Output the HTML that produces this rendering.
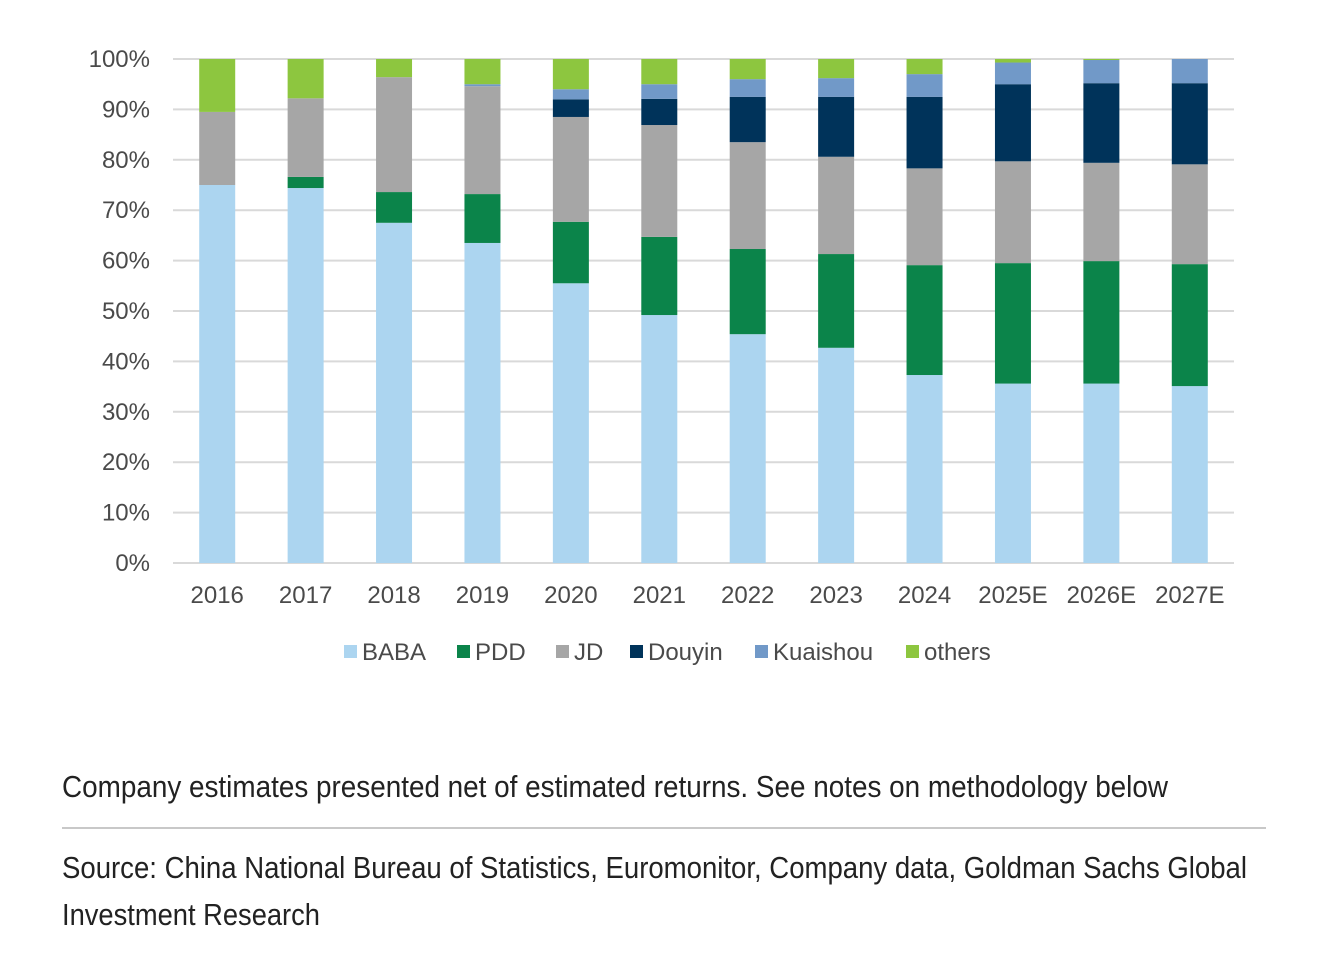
<!DOCTYPE html>
<html><head><meta charset="utf-8"><style>
body{margin:0;background:#fff;}
svg{display:block;font-family:"Liberation Sans",Arial,sans-serif;}
</style></head><body>
<svg id="chart" width="1322" height="960" viewBox="0 0 1322 960">
<g id="grid"></g>
<g id="bars"></g>
<g id="ylab"></g>
<g id="xlab"></g>
<g id="legend"></g>
<text x="62" y="797" font-size="31" fill="#222" textLength="1106" lengthAdjust="spacingAndGlyphs">Company estimates presented net of estimated returns. See notes on methodology below</text>
<line x1="62" y1="828" x2="1266" y2="828" stroke="#c8c8c8" stroke-width="2"/>
<text x="62" y="878" font-size="31" fill="#222" textLength="1185" lengthAdjust="spacingAndGlyphs">Source: China National Bureau of Statistics, Euromonitor, Company data, Goldman Sachs Global</text>
<text x="62" y="925" font-size="31" fill="#222" textLength="258" lengthAdjust="spacingAndGlyphs">Investment Research</text>
</svg>
<script>
const categories=["2016","2017","2018","2019","2020","2021","2022","2023","2024","2025E","2026E","2027E"];
const seriesNames=["BABA","PDD","JD","Douyin","Kuaishou","others"];
const baba=[75,74.4,67.5,63.5,55.5,49.2,45.4,42.7,37.3,35.6,35.6,35.1];
const pdd=[0,2.2,6.1,9.7,12.2,15.5,16.9,18.6,21.8,23.9,24.3,24.2];
const jd=[14.5,15.6,22.8,21.4,20.8,22.2,21.2,19.3,19.2,20.2,19.5,19.8];
const douyin=[0,0,0,0,3.5,5.2,9,11.9,14.2,15.3,15.8,16.1];
const kuaishou=[0,0,0,0.4,2,2.9,3.5,3.7,4.5,4.3,4.6,4.8];
const others=[10.5,7.8,3.6,5,6,5,4,3.8,3,0.7,0.2,0];
const yTicks=[0,10,20,30,40,50,60,70,80,90,100];
const colors=["#acd5f0","#0b844a","#a6a6a6","#00335a","#7199c8","#8dc63f"];
const series=[baba,pdd,jd,douyin,kuaishou,others];
const NS="http://www.w3.org/2000/svg";
const x0=173,x1=1234,yBase=563,yTop=59;
const y=v=>yBase-(yBase-yTop)*v/100;
const step=(x1-x0)/categories.length;
const xc=i=>x0+step*(i+0.5);
const bw=36;
function mk(t,a,p){const e=document.createElementNS(NS,t);for(const k in a)e.setAttribute(k,a[k]);p.appendChild(e);return e;}
const grid=document.getElementById('grid'),ylab=document.getElementById('ylab');
yTicks.forEach(t=>{
 const l=mk('line',{x1:x0,x2:x1,y1:y(t),y2:y(t),stroke:'#d9d9d9','stroke-width':2},grid);
 
 
 const tx=mk('text',{x:150,y:y(t)+8,'font-size':24,fill:'#4a4a4a','text-anchor':'end'},ylab);
 tx.textContent=t+'%';
 
 
});
const bars=document.getElementById('bars'),xlab=document.getElementById('xlab');
categories.forEach((c,i)=>{
 let cum=0;
 series.forEach((s,k)=>{
  const v=s[i];if(v<=0)return;
  const r=mk('rect',{x:xc(i)-bw/2,y:y(cum+v),width:bw,height:y(cum)-y(cum+v),fill:colors[k]},bars);
  
  
  cum+=v;
 });
 const t=mk('text',{x:xc(i),y:603,'font-size':24,fill:'#4a4a4a','text-anchor':'middle'},xlab);
 t.textContent=c;
 
 
});
const legend=document.getElementById('legend');
const lx=[344,457,556,630,755,906];
seriesNames.forEach((n,k)=>{
 const g=mk('g',{},legend);
 
 
 mk('rect',{x:lx[k],y:645,width:13,height:13,fill:colors[k]},g);
 const t=mk('text',{x:lx[k]+18,y:660,'font-size':24,fill:'#4a4a4a'},g);
 t.textContent=n;
});
</script>
</body></html>
